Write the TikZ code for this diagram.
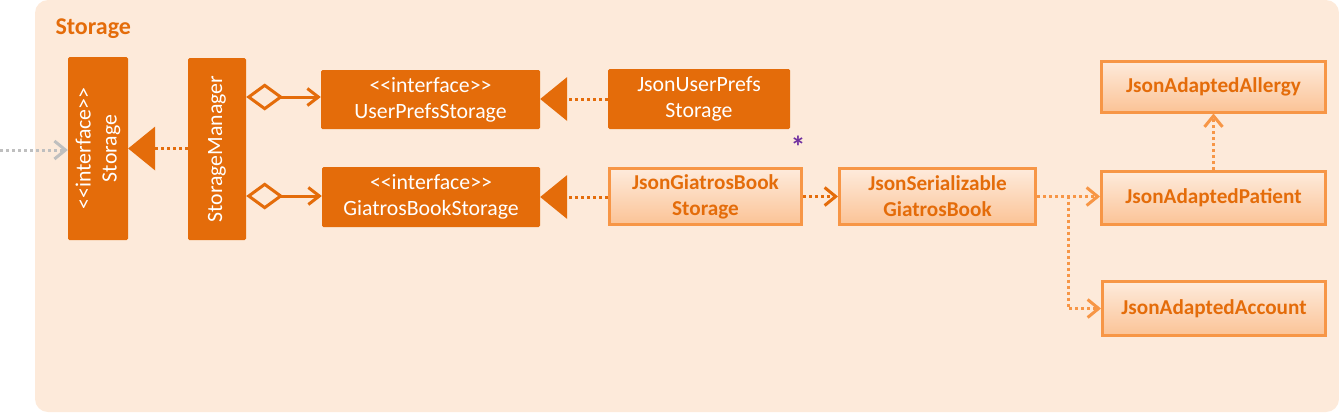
\documentclass[tikz,border=0pt]{standalone}
\usepackage{fontspec}
\setmainfont{Carlito}[Ligatures=TeXOff]
\usetikzlibrary{arrows.meta,positioning}
\definecolor{panel}{HTML}{FDEADA}
\definecolor{dark}{HTML}{E46C0A}
\definecolor{lite}{HTML}{F79646}
\definecolor{ltop}{HTML}{FEEBDC}
\definecolor{lbot}{HTML}{FBC396}
\definecolor{grayarr}{HTML}{BFBFBF}
\definecolor{purp}{HTML}{7030A0}
\tikzset{
  darkbox/.style={fill=dark, draw=none, rounded corners=1.5pt, inner sep=0pt, text=white,
    font=\fontsize{21.8}{26}\selectfont, align=center},
  litebox/.style={draw=lite, line width=3pt, top color=ltop, bottom color=lbot, inner sep=0pt,
    text=dark, font=\fontsize{21.2}{26}\selectfont\bfseries, align=center},
  dotline/.style={line width=3pt, dash pattern=on 3pt off 3pt},
  realize/.style={dotline, draw=dark, -{Triangle[length=27pt,width=44pt,line width=0pt]}},
  aggr/.style={line width=3pt, draw=dark, {Diamond[open,length=37pt,width=27pt]}-{Straight Barb[length=11pt,width=17pt]}},
  dep/.style={dotline, -{Straight Barb[length=11pt,width=18pt,line width=3pt]}},
}
\begin{document}
\begin{tikzpicture}[x=1pt,y=-1pt]
\useasboundingbox (0,0) rectangle (1339,413);
\fill[panel, rounded corners=13pt] (35,0) rectangle (1339,412);
\node[anchor=west, text=dark, font=\fontsize{24}{28}\selectfont\bfseries] (title) at (52,28.5) {Storage};

\node[darkbox, minimum width=183pt, minimum height=60pt, rotate=90] (st) at (98,148.5) {<<interface>>\\Storage};
\node[darkbox, minimum width=182pt, minimum height=58pt, rotate=90] (sm) at (217,149) {StorageManager};
\node[darkbox, minimum width=219pt, minimum height=59pt] (ups) at (430.5,99.5) {<<interface>>\\UserPrefsStorage};
\node[darkbox, minimum width=218pt, minimum height=60pt] (gbs) at (431,197) {<<interface>>\\GiatrosBookStorage};
\node[darkbox, minimum width=182pt, minimum height=60pt] (jups) at (699,99) {JsonUserPrefs\\Storage};

\node[litebox, minimum width=192pt, minimum height=56pt] (jgbs) at (705.5,196.5) {JsonGiatrosBook\\Storage};
\node[litebox, minimum width=196pt, minimum height=56pt] (jsgb) at (937.5,196.5) {JsonSerializable\\GiatrosBook};
\node[litebox, minimum width=224pt, minimum height=51pt] (jaal) at (1213.5,86.5) {JsonAdaptedAllergy};
\node[litebox, minimum width=224pt, minimum height=53pt] (jap) at (1213.5,198) {JsonAdaptedPatient};
\node[litebox, minimum width=223pt, minimum height=54pt] (jaac) at (1214,308.5) {JsonAdaptedAccount};

\node[text=purp, font=\fontsize{30}{30}\selectfont\bfseries] (star) at (798,147) {*};

\coordinate (gstart) at (0,150);
\draw[dep, draw=grayarr] (gstart) -- (st.north |- gstart);

\draw[realize] (sm.north |- st) -- (st.south);
\draw[aggr] (sm.south |- 0,97) -- (ups.west |- 0,97);
\draw[aggr] (sm.south |- 0,196) -- (gbs.west |- 0,196);
\draw[realize] (jups.west |- 0,99) -- (ups.east |- 0,99);
\draw[realize] (jgbs.west |- gbs) -- (gbs.east);
\draw[dep, draw=dark] (jgbs.east) -- (jsgb.west);
\draw[dep, draw=lite] (jsgb.east) -- (jap.west |- jsgb.east);
\draw[dep, draw=lite] (jsgb.east) -- ++(31,0) |- (jaac.west);
\draw[dep, draw=lite] (jap.north) -- (jaal.south);
\end{tikzpicture}
\end{document}
